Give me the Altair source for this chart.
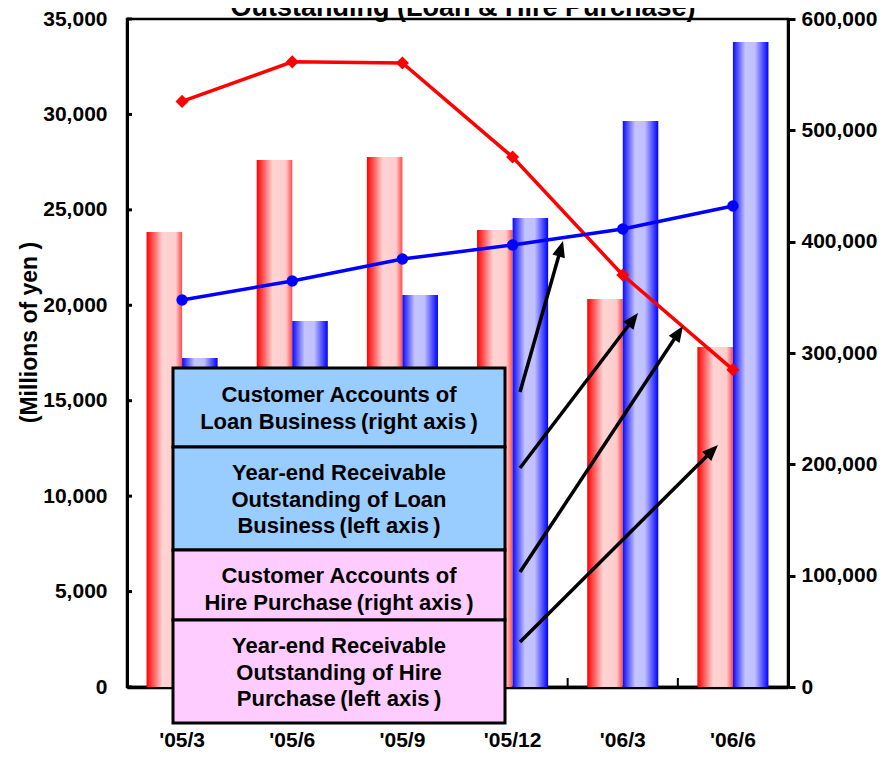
import math
import altair as alt
import pandas as pd

# ---------------- data ----------------
periods = ["'05/3", "'05/6", "'05/9", "'05/12", "'06/3", "'06/6"]
hire_receivable = [23840, 27610, 27770, 23950, 20330, 17810]      # left axis, red bars
loan_receivable = [17240, 19180, 20540, 24570, 29660, 33790]      # left axis, blue bars
hire_accounts = [526000, 561500, 560500, 476000, 370000, 285000]  # right axis, red line
loan_accounts = [347600, 364700, 384400, 397000, 411400, 432000]  # right axis, blue line
left_ticks = [0, 5000, 10000, 15000, 20000, 25000, 30000, 35000]
right_ticks = [0, 100000, 200000, 300000, 400000, 500000, 600000]
title_text = "Outstanding (Loan & Hire Purchase)"
y_title = "(Millions of yen )"
legend_labels = [
    ["Customer Accounts of", "Loan Business\u2009(right axis\u2009)"],
    ["Year-end Receivable", "Outstanding of Loan", "Business\u2009(left axis\u2009)"],
    ["Customer Accounts of", "Hire Purchase\u2009(right axis\u2009)"],
    ["Year-end Receivable", "Outstanding of Hire", "Purchase\u2009(left axis\u2009)"],
]

# ---------------- layout ----------------
W, H = 661, 668
OX, OY = 127, 19  # page position of plot origin
SANS = "'Liberation Sans', Arial, Helvetica, sans-serif"
NUM_FONT = "'Liberation Sans Narrow', 'Arial Narrow', 'Liberation Sans', Arial, sans-serif"
FMT = "format(datum.value, ',d')"


def px(x):
    return x - OX


def py(y):
    return y - OY


bars_df = pd.DataFrame({
    "period": periods * 2,
    "series": ["Hire"] * 6 + ["Loan"] * 6,
    "value": hire_receivable + loan_receivable,
})
hire_line_df = pd.DataFrame({"period": periods, "idx": range(6), "value": hire_accounts})
loan_line_df = pd.DataFrame({"period": periods, "idx": range(6), "value": loan_accounts})

x_scale = alt.Scale(type="band", domain=periods, paddingInner=0, paddingOuter=0)
x_axis = alt.Axis(title=None, labelAngle=0, ticks=False, tickSize=0, domainWidth=3.5,
                  domainColor="black", labelFont=NUM_FONT, labelFontSize=21,
                  labelFontWeight="bold", labelColor="black", labelPadding=42,
                  labelBaseline="top", grid=False)
x_enc = alt.X("period:N", scale=x_scale, axis=x_axis)

left_axis = alt.Axis(orient="left", values=left_ticks, labelExpr=FMT, title=y_title,
                     titleFont=SANS, titleFontSize=23, titleFontWeight="bold",
                     titleColor="black", titleAngle=270, titleX=-98, titleY=313,
                     titleAlign="center", titleBaseline="middle",
                     labelFont=NUM_FONT, labelFontSize=21, labelFontWeight="bold",
                     labelColor="black", labelPadding=20, ticks=False, tickSize=0,
                     domainWidth=3, domainColor="black", grid=False)
y_left = alt.Y("value:Q", scale=alt.Scale(domain=[0, 35000], nice=False, zero=True), axis=left_axis)

right_axis = alt.Axis(orient="right", values=right_ticks, labelExpr=FMT, title=None,
                      labelFont=NUM_FONT, labelFontSize=21, labelFontWeight="bold",
                      labelColor="black", labelPadding=6, tickSize=7, tickWidth=3,
                      tickColor="black", domainWidth=3, domainColor="black", grid=False)
y_right = alt.Y("value:Q", scale=alt.Scale(domain=[0, 600000], nice=False, zero=True), axis=right_axis)

xoff = alt.XOffset("series:N", scale=alt.Scale(domain=["Hire", "Loan"], paddingInner=0, paddingOuter=0.55))

red_grad = alt.Gradient(gradient="linear", x1=0, x2=1, y1=0, y2=0, stops=[
    alt.GradientStop(color="#ff0000", offset=0),
    alt.GradientStop(color="#ffd4d4", offset=0.45),
    alt.GradientStop(color="#ffcccc", offset=0.82),
    alt.GradientStop(color="#ff4a4a", offset=1),
])
blue_grad = alt.Gradient(gradient="linear", x1=0, x2=1, y1=0, y2=0, stops=[
    alt.GradientStop(color="#0a0aff", offset=0),
    alt.GradientStop(color="#c4c4ff", offset=0.35),
    alt.GradientStop(color="#c0c0ff", offset=0.62),
    alt.GradientStop(color="#0000ff", offset=1),
])

base_bars = alt.Chart(bars_df)
red_bars = base_bars.transform_filter(alt.datum.series == "Hire").mark_bar(color=red_grad).encode(
    x=x_enc, xOffset=xoff, y=y_left)
blue_bars = base_bars.transform_filter(alt.datum.series == "Loan").mark_bar(color=blue_grad).encode(
    x=x_enc, xOffset=xoff, y=y_left)

left_tick_marks = alt.Chart(pd.DataFrame({"value": left_ticks})).mark_rule(
    color="black", strokeWidth=3).encode(y=y_left, x=alt.value(0), x2=alt.value(5))

x_tick_marks = alt.Chart(pd.DataFrame({"period": periods})).mark_rule(
    color="black", strokeWidth=2).encode(
    x=alt.X("period:N", scale=x_scale, axis=x_axis, bandPosition=0),
    y=alt.value(H - 9), y2=alt.value(H))

bar_group = alt.layer(red_bars, blue_bars, left_tick_marks, x_tick_marks)

red_line = alt.Chart(hire_line_df).mark_line(color="#ff0000", strokeWidth=3.5).encode(
    x=x_enc, y=y_right, order="idx:Q")
red_pts = alt.Chart(hire_line_df).mark_point(shape="diamond", filled=True, size=170,
                                             color="#ff0000", opacity=1).encode(x=x_enc, y=y_right)
blue_line = alt.Chart(loan_line_df).mark_line(color="#0000ff", strokeWidth=3.5).encode(
    x=x_enc, y=y_right, order="idx:Q")
blue_pts = alt.Chart(loan_line_df).mark_point(shape="circle", filled=True, size=130,
                                              color="#0000ff", opacity=1).encode(x=x_enc, y=y_right)
line_group = alt.layer(red_line, red_pts, blue_line, blue_pts)

one = pd.DataFrame({"a": [0]})
annotations = []

# cut-off title at the top
annotations.append(alt.Chart(one).mark_text(
    text=title_text, font=SANS, fontSize=27, fontWeight="bold", color="black",
    align="center", baseline="alphabetic").encode(x=alt.value(px(463)), y=alt.value(py(16))))

# legend boxes: (top, bottom, fill, y of first text line)
rows = [(368, 447, "#99ccff", 395), (447, 550, "#99ccff", 473),
        (550, 620, "#ffccff", 576), (620, 723, "#ffccff", 646)]
for (top, bot, fill, ly), lines in zip(rows, legend_labels):
    annotations.append(alt.Chart(one).mark_rect(fill=fill, stroke="black", strokeWidth=3).encode(
        x=alt.value(px(173)), x2=alt.value(px(505)), y=alt.value(py(top)), y2=alt.value(py(bot))))
    annotations.append(alt.Chart(one).mark_text(
        text=lines, font=SANS, fontSize=22, fontWeight="bold", color="black",
        lineHeight=26.5, align="center", baseline="middle").encode(
        x=alt.value(px(339)), y=alt.value(py(ly))))

# arrows
arrows = [((520, 392), (563, 241)), ((520, 468), (638, 313)),
          ((520, 572), (683, 326)), ((520, 642), (718, 445))]
for (sx, sy), (tx, ty) in arrows:
    dx, dy = tx - sx, ty - sy
    L = math.hypot(dx, dy)
    ux, uy = dx / L, dy / L
    cx, cy = tx - 10 * ux, ty - 10 * uy
    ang = math.degrees(math.atan2(dx, -dy)) % 360
    annotations.append(alt.Chart(one).mark_rule(color="black", strokeWidth=3.5).encode(
        x=alt.value(px(sx)), y=alt.value(py(sy)), x2=alt.value(px(cx)), y2=alt.value(py(cy))))
    annotations.append(alt.Chart(one).mark_point(
        shape="M0,-1L0.65,0.6L-0.65,0.6Z", size=400, filled=True, color="black",
        opacity=1, angle=ang).encode(x=alt.value(px(cx)), y=alt.value(py(cy))))

chart = alt.layer(bar_group, line_group, *annotations).resolve_scale(
    y="independent"
).properties(
    width=W, height=H,
    autosize=alt.AutoSizeParams(type="none"),
    padding={"left": 119, "top": 11, "right": 92, "bottom": 63},
).configure_view(stroke="black", strokeWidth=2.5)

chart.save("out.html", embed_options={"renderer": "svg", "actions": False})
